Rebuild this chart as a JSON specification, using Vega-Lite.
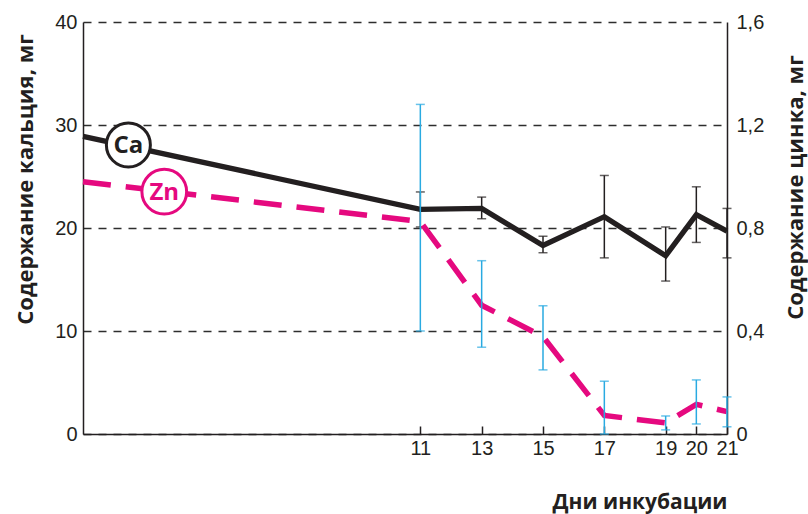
{
  "$schema": "https://vega.github.io/schema/vega-lite/v6.json",
  "width": 644,
  "height": 412,
  "autosize": {"type": "none"},
  "padding": {"left": 83, "top": 22, "right": 81, "bottom": 80},
  "background": "white",
  "config": {
    "view": {"stroke": null},
    "axis": {
      "domainColor": "#231f20",
      "domainWidth": 1.5,
      "labelFont": "Liberation Sans",
      "labelFontSize": 20,
      "labelColor": "#231f20",
      "titleFont": "Open Sans",
      "titleFontWeight": "bold",
      "titleFontSize": 21,
      "titleColor": "#231f20",
      "tickColor": "#231f20",
      "tickWidth": 1.5
    }
  },
  "datasets": {
    "ca": [
      {"day": 0, "v": 28.9},
      {"day": 11, "v": 21.8, "lo": 20.1, "hi": 23.5},
      {"day": 13, "v": 21.9, "lo": 20.9, "hi": 23.0},
      {"day": 15, "v": 18.3, "lo": 17.6, "hi": 19.2},
      {"day": 17, "v": 21.1, "lo": 17.1, "hi": 25.1},
      {"day": 19, "v": 17.3, "lo": 14.85, "hi": 20.1},
      {"day": 20, "v": 21.3, "lo": 18.6, "hi": 24.0},
      {"day": 21, "v": 19.7, "lo": 17.1, "hi": 21.9}
    ],
    "zn": [
      {"day": 0, "v": 0.98},
      {"day": 11, "v": 0.825, "lo": 0.4, "hi": 1.28},
      {"day": 13, "v": 0.5, "lo": 0.337, "hi": 0.673},
      {"day": 15, "v": 0.378, "lo": 0.249, "hi": 0.498},
      {"day": 17, "v": 0.072, "lo": 0.0, "hi": 0.205},
      {"day": 19, "v": 0.043, "lo": 0.016, "hi": 0.07},
      {"day": 20, "v": 0.115, "lo": 0.039, "hi": 0.21},
      {"day": 21, "v": 0.087, "lo": 0.028, "hi": 0.144}
    ],
    "calabel": [{"day": 1.48, "v": 28.06, "t": "Ca"}],
    "znlabel": [{"day": 2.65, "v": 0.941, "t": "Zn"}]
  },
  "encoding": {
    "x": {
      "field": "day",
      "type": "quantitative",
      "scale": {"domain": [0, 21], "nice": false, "zero": false},
      "axis": {
        "values": [11, 13, 15, 17, 19, 20, 21],
        "grid": false,
        "tickSize": -8,
        "labelPadding": 12,
        "labelOverlap": false,
        "labelFlush": false,
        "domainColor": "#231f20",
        "title": "Дни инкубации",
        "titleAnchor": "end",
        "titleAlign": "right",
        "titleBaseline": "alphabetic",
        "titleX": 644,
        "titleY": 74
      }
    }
  },
  "layer": [
    {
      "layer": [
        {
          "data": {"name": "ca"},
          "mark": {"type": "line", "color": "#231f20", "strokeWidth": 5.3, "strokeJoin": "miter"},
          "encoding": {
            "y": {
              "field": "v",
              "type": "quantitative",
              "title": "Содержание кальция, мг",
              "scale": {"domain": [0, 40], "nice": false},
              "axis": {
                "orient": "left",
                "values": [0, 10, 20, 30, 40],
                "grid": true,
                "gridDash": [8, 7],
                "gridColor": "#2e2e2e",
                "gridWidth": 1.3,
                "ticks": false,
                "labelPadding": 6,
                "titleFontSize": 22,
                "titleAngle": 270,
                "titleAlign": "center",
                "titleBaseline": "middle",
                "titleX": -58,
                "titleY": 157
              }
            }
          }
        },
        {
          "data": {"name": "ca"},
          "transform": [{"filter": "datum.lo != null"}],
          "mark": {"type": "errorbar", "color": "#231f20", "thickness": 1.5, "ticks": {"size": 9, "thickness": 1.5, "color": "#231f20"}},
          "encoding": {
            "y": {"field": "lo", "type": "quantitative", "title": "Содержание кальция, мг"},
            "y2": {"field": "hi"}
          }
        },
        {
          "data": {"name": "calabel"},
          "mark": {"type": "point", "shape": "circle", "filled": true, "fill": "white", "stroke": "#231f20", "strokeWidth": 3, "size": 1936, "opacity": 1},
          "encoding": {"y": {"field": "v", "type": "quantitative", "title": "Содержание кальция, мг"}}
        },
        {
          "data": {"name": "calabel"},
          "mark": {"type": "text", "font": "Open Sans", "fontWeight": "bold", "fontSize": 24, "color": "#231f20", "baseline": "middle", "align": "center", "dy": 1},
          "encoding": {"y": {"field": "v", "type": "quantitative", "title": "Содержание кальция, мг"}, "text": {"field": "t"}}
        }
      ]
    },
    {
      "layer": [
        {
          "data": {"name": "zn"},
          "mark": {"type": "line", "color": "#e5097f", "strokeWidth": 5.5, "strokeDash": [28, 15]},
          "encoding": {
            "y": {
              "field": "v",
              "type": "quantitative",
              "title": "Содержание цинка, мг",
              "scale": {"domain": [0, 1.6], "nice": false},
              "axis": {
                "orient": "right",
                "values": [0, 0.4, 0.8, 1.2, 1.6],
                "grid": false,
                "ticks": false,
                "labelPadding": 9,
                "labelExpr": "datum.value == 0 ? '0' : replace(format(datum.value, '.1f'), '.', ',')",
                "titleFontSize": 22,
                "titleAngle": 270,
                "titleAlign": "center",
                "titleBaseline": "middle",
                "titleX": 68,
                "titleY": 165
              }
            }
          }
        },
        {
          "data": {"name": "zn"},
          "transform": [{"filter": "datum.lo != null"}],
          "mark": {"type": "errorbar", "color": "#29aae1", "thickness": 1.5, "ticks": {"size": 9, "thickness": 1.5, "color": "#29aae1"}},
          "encoding": {
            "y": {"field": "lo", "type": "quantitative", "title": "Содержание цинка, мг"},
            "y2": {"field": "hi"}
          }
        },
        {
          "data": {"name": "znlabel"},
          "mark": {"type": "point", "shape": "circle", "filled": true, "fill": "white", "stroke": "#e5097f", "strokeWidth": 3, "size": 2000, "opacity": 1},
          "encoding": {"y": {"field": "v", "type": "quantitative", "title": "Содержание цинка, мг"}}
        },
        {
          "data": {"name": "znlabel"},
          "mark": {"type": "text", "font": "Open Sans", "fontWeight": "bold", "fontSize": 24, "color": "#e5097f", "baseline": "middle", "align": "center", "dy": 1},
          "encoding": {"y": {"field": "v", "type": "quantitative", "title": "Содержание цинка, мг"}, "text": {"field": "t"}}
        }
      ]
    }
  ],
  "resolve": {"scale": {"y": "independent"}}
}
